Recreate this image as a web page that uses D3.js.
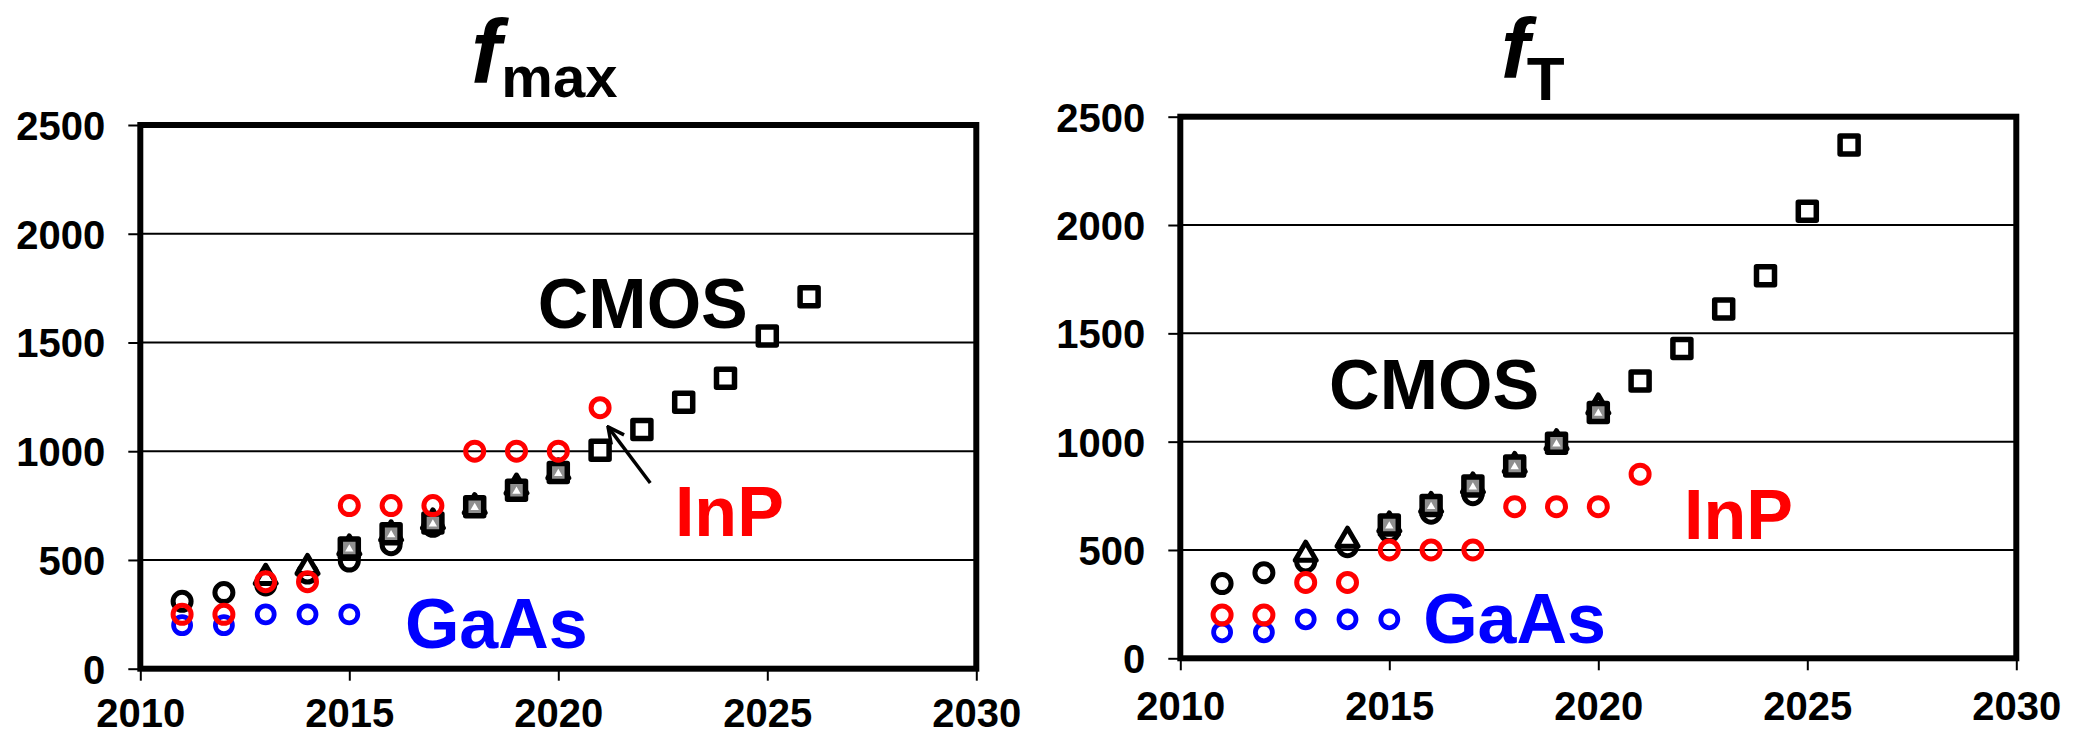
<!DOCTYPE html>
<html>
<head>
<meta charset="utf-8">
<script src="https://cdn.jsdelivr.net/npm/d3@7"></script>
<style>
  html, body { margin: 0; padding: 0; background: #fff; }
  svg { display: block; }
  text { font-family: "Liberation Sans", Arial, sans-serif; font-weight: bold; }
</style>
</head>
<body>
<svg id="chart" width="2082" height="735"></svg>
<script>
// ---------------- DATA ----------------
const xTicks = [2010, 2015, 2020, 2025, 2030];
const yTicks = [0, 500, 1000, 1500, 2000, 2500];
const gridValues = [500, 1000, 1500, 2000];

// fmax chart
const fmaxCircleYears = [2011, 2012, 2013, 2014, 2015, 2016, 2017];
const fmaxCircle      = [310, 350, 385, 440, 495, 570, 655];
const fmaxTriYears    = [2013, 2014, 2015, 2016, 2017, 2018, 2019, 2020];
const fmaxTri         = [420, 465, 555, 620, 675, 745, 835, 905];
const fmaxSqYears     = [2015, 2016, 2017, 2018, 2019, 2020];
const fmaxSq          = [555, 620, 670, 745, 820, 902];
const fmaxOpenYears   = [2021, 2022, 2023, 2024, 2025, 2026];
const fmaxOpen        = [1005, 1100, 1225, 1335, 1530, 1710];
const fmaxInPYears    = [2011, 2012, 2013, 2014, 2015, 2016, 2017, 2018, 2019, 2020, 2021];
const fmaxInP         = [250, 250, 400, 400, 750, 750, 750, 1000, 1000, 1000, 1200];
const fmaxGaAsYears   = [2011, 2012, 2013, 2014, 2015];
const fmaxGaAs        = [200, 200, 250, 250, 250];

// fT chart
const ftCircleYears = [2011, 2012, 2013, 2014, 2015, 2016, 2017];
const ftCircle      = [345, 395, 445, 515, 585, 670, 755];
const ftTriYears    = [2013, 2014, 2015, 2016, 2017, 2018, 2019, 2020];
const ftTri         = [480, 545, 615, 705, 795, 890, 995, 1160];
const ftSqYears     = [2015, 2016, 2017, 2018, 2019, 2020];
const ftSq          = [615, 705, 795, 888, 993, 1135];
const ftOpenYears   = [2021, 2022, 2023, 2024, 2025, 2026];
const ftOpen        = [1280, 1430, 1612, 1766, 2064, 2369];
const ftInPYears    = [2011, 2012, 2013, 2014, 2015, 2016, 2017, 2018, 2019, 2020, 2021];
const ftInP         = [200, 200, 350, 350, 500, 500, 500, 700, 700, 700, 850];
const ftGaAsYears   = [2011, 2012, 2013, 2014, 2015];
const ftGaAs        = [120, 120, 180, 180, 180];

const zip = (xs, ys) => xs.map((x, i) => ({ x, y: ys[i] }));

// ---------------- LAYOUT ----------------
const svg = d3.select("#chart");
const font = '"Liberation Sans", Arial, sans-serif';

const charts = [
  {
    x0: 140.3, x1: 976.3, y0: 668.7, y1: 125, xPad: 18,
    title: { main: "f", sub: "max", x: 471, y: 83, size: 91, dx: 0, dy: 14, subSize: 58 },
    circle: zip(fmaxCircleYears, fmaxCircle),
    tri: zip(fmaxTriYears, fmaxTri),
    sq: zip(fmaxSqYears, fmaxSq),
    open: zip(fmaxOpenYears, fmaxOpen),
    inp: zip(fmaxInPYears, fmaxInP),
    gaas: zip(fmaxGaAsYears, fmaxGaAs),
    labels: [
      { text: "CMOS", x: 2019.51, y: 1567, color: "#000" },
      { text: "InP", x: 2022.79, y: 612, color: "#ff0000" },
      { text: "GaAs", x: 2016.33, y: 95, color: "#0000ff" }
    ],
    arrow: { from: [2022.2, 854], to: [2021.19, 1112] }
  },
  {
    x0: 1180.3, x1: 2016.3, y0: 658.3, y1: 116.7, xPad: 21,
    title: { main: "f", sub: "T", x: 1501, y: 78, size: 86, dx: -3, dy: 22, subSize: 62 },
    circle: zip(ftCircleYears, ftCircle),
    tri: zip(ftTriYears, ftTri),
    sq: zip(ftSqYears, ftSq),
    open: zip(ftOpenYears, ftOpen),
    inp: zip(ftInPYears, ftInP),
    gaas: zip(ftGaAsYears, ftGaAs),
    labels: [
      { text: "CMOS", x: 2013.56, y: 1150, color: "#000" },
      { text: "InP", x: 2022.05, y: 550, color: "#ff0000" },
      { text: "GaAs", x: 2015.81, y: 71, color: "#0000ff" }
    ],
    arrow: null
  }
];

// arrow marker
svg.append("defs").append("marker")
  .attr("id", "arrowhead")
  .attr("viewBox", "0 0 20 20")
  .attr("refX", 18).attr("refY", 10)
  .attr("markerWidth", 20).attr("markerHeight", 20)
  .attr("markerUnits", "userSpaceOnUse")
  .attr("orient", "auto")
  .append("path")
  .attr("d", "M2,2 L18,10 L2,18")
  .attr("fill", "none").attr("stroke", "#000").attr("stroke-width", 3.5);

charts.forEach(c => {
  const x = d3.scaleLinear().domain([2010, 2030]).range([c.x0, c.x1]);
  const y = d3.scaleLinear().domain([0, 2500]).range([c.y0, c.y1]);
  const g = svg.append("g");

  // gridlines
  g.selectAll("line.grid").data(gridValues).enter().append("line")
    .attr("x1", c.x0).attr("x2", c.x1)
    .attr("y1", d => y(d)).attr("y2", d => y(d))
    .attr("stroke", "#000").attr("stroke-width", 2);

  // y axis
  const yAxis = d3.axisLeft(y).tickValues(yTicks).tickSize(12).tickPadding(23).tickFormat(d3.format("d"));
  const ya = g.append("g").attr("transform", `translate(${c.x0},0)`).call(yAxis);
  ya.select(".domain").remove();
  ya.selectAll(".tick line").attr("stroke", "#000").attr("stroke-width", 2);
  ya.selectAll(".tick text").attr("font-size", 40).attr("font-family", font).attr("font-weight", "bold").attr("fill", "#000").attr("dy", "0.36em");

  // x axis
  const xAxis = d3.axisBottom(x).tickValues(xTicks).tickSize(12).tickPadding(c.xPad).tickFormat(d3.format("d"));
  const xa = g.append("g").attr("transform", `translate(0,${c.y0})`).call(xAxis);
  xa.select(".domain").remove();
  xa.selectAll(".tick line").attr("stroke", "#000").attr("stroke-width", 2);
  xa.selectAll(".tick text").attr("font-size", 40).attr("font-family", font).attr("font-weight", "bold").attr("fill", "#000");

  // frame
  g.append("rect")
    .attr("x", c.x0).attr("y", c.y1)
    .attr("width", c.x1 - c.x0).attr("height", c.y0 - c.y1)
    .attr("fill", "none").attr("stroke", "#000").attr("stroke-width", 6);

  // title
  const t = g.append("text").attr("x", c.title.x).attr("y", c.title.y)
    .attr("font-family", font).attr("font-weight", "bold").attr("fill", "#000");
  t.append("tspan").attr("font-size", c.title.size).attr("font-style", "italic").text(c.title.main);
  t.append("tspan").attr("font-size", c.title.subSize).attr("dx", c.title.dx).attr("dy", c.title.dy).text(c.title.sub);

  // GaAs (blue circles)
  g.selectAll("circle.gaas").data(c.gaas).enter().append("circle")
    .attr("cx", d => x(d.x)).attr("cy", d => y(d.y)).attr("r", 8.5)
    .attr("fill", "none").attr("stroke", "#0000ff").attr("stroke-width", 4.8);

  // CMOS circles
  g.selectAll("circle.cmos").data(c.circle).enter().append("circle")
    .attr("cx", d => x(d.x)).attr("cy", d => y(d.y)).attr("r", 9)
    .attr("fill", "none").attr("stroke", "#000").attr("stroke-width", 5);

  // CMOS triangles
  const triSym = d3.symbol().type(d3.symbolTriangle).size(190);
  g.selectAll("path.tri").data(c.tri).enter().append("path")
    .attr("d", triSym)
    .attr("transform", d => `translate(${x(d.x)},${y(d.y)})`)
    .attr("fill", "#fff").attr("stroke", "#000").attr("stroke-width", 5)
    .attr("stroke-linejoin", "round");

  // CMOS squares (gray)
  const sqSym = d3.symbol().type(d3.symbolSquare).size(324);
  g.selectAll("path.sq").data(c.sq).enter().append("path")
    .attr("d", sqSym)
    .attr("transform", d => `translate(${x(d.x)},${y(d.y)})`)
    .attr("fill", "#8f8f8f").attr("stroke", "#000").attr("stroke-width", 5.5)
    .attr("stroke-linejoin", "round");
  // inner white triangles of the underlying triangle markers
  const triInner = d3.symbol().type(d3.symbolTriangle).size(30);
  g.selectAll("path.triIn").data(c.sq).enter().append("path")
    .attr("d", triInner)
    .attr("transform", d => `translate(${x(d.x)},${y(d.y) + 1})`)
    .attr("fill", "#fff");

  // CMOS open squares
  g.selectAll("path.open").data(c.open).enter().append("path")
    .attr("d", sqSym)
    .attr("transform", d => `translate(${x(d.x)},${y(d.y)})`)
    .attr("fill", "#fff").attr("stroke", "#000").attr("stroke-width", 5.5)
    .attr("stroke-linejoin", "round");

  // InP (red circles)
  g.selectAll("circle.inp").data(c.inp).enter().append("circle")
    .attr("cx", d => x(d.x)).attr("cy", d => y(d.y)).attr("r", 9)
    .attr("fill", "none").attr("stroke", "#ff0000").attr("stroke-width", 5);

  // labels
  g.selectAll("text.lbl").data(c.labels).enter().append("text")
    .attr("x", d => x(d.x)).attr("y", d => y(d.y))
    .attr("font-size", 70).attr("font-family", font).attr("font-weight", "bold")
    .attr("fill", d => d.color).text(d => d.text);

  // arrow
  if (c.arrow) {
    g.append("line")
      .attr("x1", x(c.arrow.from[0])).attr("y1", y(c.arrow.from[1]))
      .attr("x2", x(c.arrow.to[0])).attr("y2", y(c.arrow.to[1]))
      .attr("stroke", "#000").attr("stroke-width", 3.5)
      .attr("marker-end", "url(#arrowhead)");
  }
});
</script>
</body>
</html>
